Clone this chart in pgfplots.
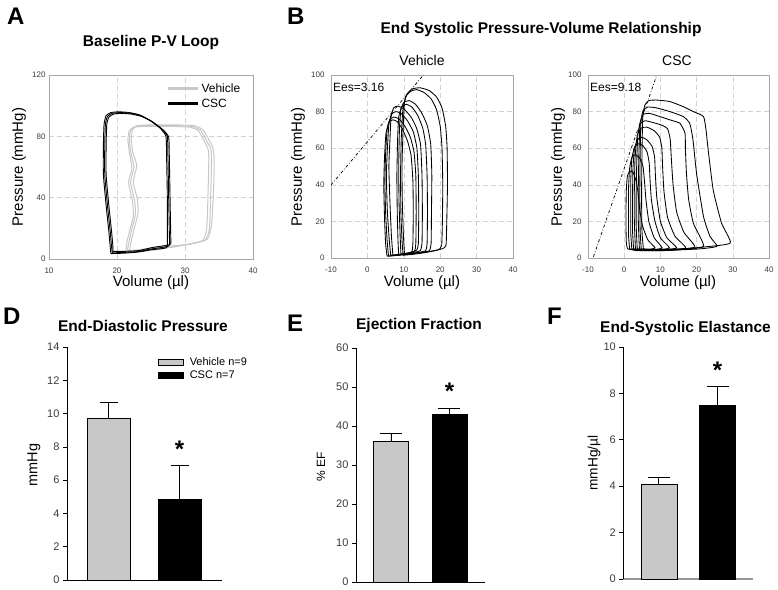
\documentclass[border=0pt]{standalone}
\usepackage{fontspec}
\setmainfont{Liberation Sans}
\usepackage{pgfplots}
\pgfplotsset{compat=1.18}
\definecolor{lgray}{RGB}{200,200,200}
\definecolor{tickgray}{RGB}{60,60,60}
\definecolor{fline}{RGB}{150,150,150}
\newcommand\ttl{\fontsize{15.5}{18}\selectfont\bfseries}
\newcommand\lett{\fontsize{24}{26}\selectfont\bfseries}
\newcommand\lab{\fontsize{15}{17}\selectfont}
\pgfplotsset{
  pvstyle/.style={
    scale only axis, anchor=south west,
    xmin=-10, xmax=40, ymin=0, ymax=100,
    xtick={-10,0,...,40}, ytick={0,20,...,100},
    grid=major, major grid style={gray!35, dash pattern=on 5pt off 3pt, line width=0.5pt},
    axis line style={gray!70}, major tick length=0pt,
    tick label style={font=\fontsize{8}{9}\selectfont, text=tickgray},
    xticklabel style={yshift=-5pt},
    /pgf/number format/assume math mode=true,
  },
  barstyle/.style={
    scale only axis, anchor=south west,
    axis lines=left, axis line style={-, black, line width=0.8pt},
    xtick=\empty, tick align=outside, major tick length=4pt,
    ytick style={black, line width=0.6pt},
    tick label style={font=\fontsize{11}{13}\selectfont, text=tickgray},
    /pgf/number format/assume math mode=true,
    ymin=0, clip=false,
  },
  loop/.style={black, line width=0.85pt, smooth, tension=0.3},
  ebar/.style={error bars/.cd, y dir=plus, y explicit,
    error bar style={line width=0.8pt, black},
    error mark options={rotate=90, black, line width=0.8pt, mark size=#1}},
}
\begin{document}
\begin{tikzpicture}[x=1pt,y=1pt]
\path[use as bounding box, fill=white] (0,0) rectangle (778,589);

% ---------- A: baseline loops
\begin{axis}[pvstyle, at={(49pt,330pt)}, width=204pt, height=184pt,
  xmin=10, xmax=40, ymin=0, ymax=120, xtick={10,20,30,40}, ytick={0,40,80,120},
  legend style={at={(0.575,0.965)}, anchor=north west, draw=none, fill=none,
    inner sep=0pt, font=\fontsize{12}{14}\selectfont, row sep=1pt},
  legend cell align=left,
  legend image code/.code={\draw[#1] (0pt,0pt) -- (30pt,0pt);}]
\addlegendimage{lgray, line width=3pt}\addlegendentry{Vehicle}
\addlegendimage{black, line width=3pt}\addlegendentry{CSC}
% vehicle
\addplot[lgray, line width=1pt, smooth, tension=0.3, forget plot] coordinates {
(21.5,5) (23.5,5.5) (26,7) (28.5,8) (31,10) (33,12.5) (33.6,20) (33.8,45) (33.9,65) (33.8,72) (33.2,77) (32.3,84) (31,86.5) (28,87) (25,87) (22.7,86.5) (22,84) (21.8,78) (22,70) (22.5,60) (22,50) (22.6,38) (22.7,29) (22.2,20) (21.8,12) (21.5,5)};
\addplot[lgray, line width=1pt, smooth, tension=0.3, forget plot] coordinates {
(21.8,4.5) (24,5) (26.5,6.5) (29,8.5) (31.5,10.5) (33.3,13) (33.9,22) (34.2,45) (34.3,65) (34.1,72.5) (33.5,78) (32.6,84.5) (31.3,87) (28.2,87.5) (25.2,87.5) (23,87) (22.3,84.5) (22.1,78) (22.3,70) (22.9,61) (22.4,50) (23,39) (23.1,30) (22.6,21) (22.1,12) (21.8,4.5)};
\addplot[lgray, line width=1pt, smooth, tension=0.3, forget plot] coordinates {
(21.3,5.5) (23.2,6) (25.6,7.5) (28,8.5) (30.5,9.5) (32.6,12) (33.2,20) (33.4,45) (33.5,65) (33.4,71.5) (32.9,76.5) (32,83.5) (30.7,86) (27.8,86.5) (24.8,86.5) (22.5,86) (21.8,83.5) (21.6,78) (21.8,70) (22.2,59) (21.7,50) (22.3,37) (22.4,28) (21.9,19) (21.5,12) (21.3,5.5)};
% CSC
\addplot[black, line width=0.9pt, smooth, tension=0.3, forget plot] coordinates {
(19.3,4) (21,4.3) (23,4.8) (25,6.5) (27.6,8.5) (27.7,15) (27.6,40) (27.5,65) (27.4,80) (26.5,85) (25,90) (23.5,93.5) (22,95) (20.5,95.5) (19.3,95) (18.6,93) (18.3,88) (18.2,75) (18.2,55) (18.6,35) (19,18) (19.2,8) (19.3,4)};
\addplot[black, line width=0.9pt, smooth, tension=0.3, forget plot] coordinates {
(19.1,3.5) (21,3.8) (23,4.5) (25,6) (27.3,7.5) (27.4,15) (27.4,40) (27.3,65) (27.2,80) (26.3,85.5) (24.8,90.5) (23.3,94) (21.8,95.5) (20.3,96) (19.1,95.5) (18.4,93.5) (18.1,88) (18,75) (18,55) (18.4,35) (18.8,18) (19,8) (19.1,3.5)};
\addplot[black, line width=0.9pt, smooth, tension=0.3, forget plot] coordinates {
(19.4,5) (21.2,5) (23.2,5.5) (25.2,7.5) (27.8,9.5) (27.9,15) (27.8,40) (27.7,65) (27.6,79.5) (26.7,84.5) (25.2,89.5) (23.6,93) (22.1,94.5) (20.6,95) (19.5,94.5) (18.8,92.5) (18.5,88) (18.4,75) (18.4,55) (18.8,35) (19.2,18) (19.4,8) (19.4,5)};
\end{axis}

% ---------- B: vehicle ESPVR
\begin{axis}[pvstyle, at={(331pt,331pt)}, width=182pt, height=183pt,
  yticklabel style={xshift=-3pt}]
\addplot[black, line width=0.7pt, dash dot] coordinates {(-10,39.9) (15.4,100)};
\addplot[loop] coordinates {(10.2,2) (13,2.5) (17,3.5) (20.5,5) (21.6,7) (21.8,20) (22,40) (21.9,60) (21.5,72) (20.5,82) (19,88) (17,91.5) (14.5,93) (12.5,92.5) (11,90) (10.2,85) (9.8,70) (9.5,50) (9.6,30) (9.9,12) (10.2,2)};
\addplot[loop] coordinates {(9.8,1.5) (12.5,2) (16,3) (19.5,4.5) (20.4,7) (20.6,20) (20.7,40) (20.5,60) (20,72) (19,81) (17.5,87) (15.5,90.5) (13.5,92) (11.8,91) (10.5,88) (9.7,80) (9.3,65) (9.1,45) (9.2,25) (9.5,10) (9.8,1.5)};
\addplot[loop] coordinates {(9.2,2) (11.5,2.5) (14.5,3) (17,4) (17.5,8) (17.6,25) (17.7,45) (17.4,62) (16.5,72) (15,79) (13.2,84) (11.5,86) (10,85) (9.2,81) (8.8,70) (8.6,50) (8.7,30) (9,12) (9.2,2)};
\addplot[loop] coordinates {(8.6,1.5) (11,2) (14,3) (16,4) (16.4,8) (16.5,25) (16.4,45) (16,62) (15.2,71) (13.8,78) (12.2,82.5) (10.6,84) (9.4,82.5) (8.6,77) (8.3,65) (8.1,45) (8.2,25) (8.4,10) (8.6,1.5)};
\addplot[loop] coordinates {(7,1.5) (9.5,2) (12.5,3) (14.5,4) (15,8) (15.1,25) (15,45) (14.6,62) (13.5,71) (12,77) (10,81.5) (8.3,83) (7.2,82) (6.5,77) (6.2,65) (5.9,50) (6.2,30) (6.6,12) (7,1.5)};
\addplot[loop] coordinates {(6.4,1.5) (9,2) (12,3) (13.6,4.5) (14,8) (14.1,25) (14,45) (13.6,60) (12.6,69) (11,75) (9.3,79) (7.8,80) (6.6,78.5) (5.9,73) (5.5,60) (5.2,45) (5.5,25) (6,10) (6.4,1.5)};
\addplot[loop] coordinates {(5.8,1) (8.5,1.5) (11.5,2.5) (13,4) (13.3,8) (13.4,25) (13.3,45) (12.8,58) (11.8,66) (10.3,72) (8.7,76) (7.2,77) (6.1,75.5) (5.4,70) (5,57) (4.8,42) (5,25) (5.4,10) (5.8,1)};
\addplot[loop] coordinates {(5.4,1) (8,1.5) (10.5,2.5) (12.2,3.5) (12.5,8) (12.6,25) (12.5,42) (12,56) (11,64) (9.6,70.5) (8.2,74.5) (7,75.5) (5.9,74) (5.1,68) (4.7,55) (4.5,40) (4.7,22) (5,8) (5.4,1)};
\node[anchor=west, inner sep=0pt, font=\fontsize{12}{14}\selectfont] at (rel axis cs:0.011,0.932) {Ees=3.16};
\end{axis}

% ---------- C: CSC ESPVR
\begin{axis}[pvstyle, at={(588pt,331pt)}, width=181pt, height=183pt,
  yticklabel style={xshift=-3pt}]
\addplot[black, line width=0.7pt, dash dot] coordinates {(-8.5,0.7) (9.0,100)};
\addplot[loop] coordinates {(5.3,5) (10,4.5) (16,5) (22,6) (29.3,8.2) (26.9,19) (24.6,37) (23.2,59) (22.6,70) (21.9,77.3) (19.1,80) (16.3,82.7) (12.6,85.5) (9,86.3) (6.8,86) (5.7,83.5) (5.1,76) (4.9,55) (4.8,35) (4.9,15) (5.3,5)};
\addplot[loop] coordinates {(4.7,5) (10,4) (16,4.5) (21,5) (25.6,6.4) (23.7,11.8) (21.9,22.7) (20,46) (19,64.5) (18.1,73.6) (16.3,77.3) (12.6,80) (9,82) (6.5,82.5) (5.2,80.5) (4.6,74) (4.4,55) (4.3,35) (4.4,15) (4.7,5)};
\addplot[loop] coordinates {(4.2,5) (9,4) (15,4.5) (21.9,6.4) (19.1,19) (17.8,32) (17.2,46) (16.9,60) (16.8,68.2) (15.4,73.6) (12.6,75.5) (9.5,77.5) (7,79) (5.3,78.5) (4.4,74) (4.1,60) (3.9,40) (3.9,20) (4.2,5)};
\addplot[loop] coordinates {(3.6,5) (8,4) (13,4.5) (19.5,6) (16.5,14) (14.5,25) (13.5,40) (13,55) (12.7,65) (12,70.5) (10.5,72.5) (8,74) (5.8,75) (4.5,73.5) (3.8,68) (3.5,55) (3.3,35) (3.3,18) (3.6,5)};
\addplot[loop] coordinates {(3.1,5) (7,4) (12,4.5) (17,5.5) (14,12) (12,22) (11,36) (10.6,50) (10.4,60) (9.8,66) (8.3,69.5) (6.3,71.5) (4.7,71) (3.6,67) (3,55) (2.8,38) (2.8,20) (3.1,5)};
\addplot[loop] coordinates {(2.6,5) (6,4) (10,4.5) (14.5,5.5) (11.8,11) (10,20) (9,33) (8.6,46) (8.4,55) (7.7,61) (6.3,64.5) (4.8,66) (3.6,64.5) (2.8,59) (2.4,48) (2.3,32) (2.3,15) (2.6,5)};
\addplot[loop] coordinates {(2.1,5) (5.5,4) (9,4.5) (12.5,5.5) (10,11) (8.5,20) (7.5,32) (7.1,44) (6.9,52) (6.3,58) (5.1,61.5) (3.8,62.5) (2.8,60.5) (2.1,54) (1.8,42) (1.8,28) (1.8,14) (2.1,5)};
\addplot[loop] coordinates {(1.5,5) (4.5,4) (7.5,4.5) (10.5,5.5) (8.3,11) (6.8,20) (6,32) (5.6,42) (5.2,50) (4.3,54.5) (3.1,56.5) (2.1,55) (1.5,49) (1.2,38) (1.2,24) (1.2,12) (1.5,5)};
\addplot[loop] coordinates {(0.9,5) (3.5,4) (6,4.5) (8.5,5.5) (6.5,10) (5,18) (4.2,28) (3.8,36) (3.3,42) (2.5,46.5) (1.6,47.5) (0.9,45) (0.6,38) (0.5,28) (0.5,16) (0.6,8) (0.9,5)};
\node[anchor=west, inner sep=0pt, font=\fontsize{12}{14}\selectfont] at (rel axis cs:0.011,0.932) {Ees=9.18};
\end{axis}

% ---------- D: end-diastolic pressure
\begin{axis}[barstyle, at={(67pt,9pt)}, width=154.7pt, height=233pt,
  xmin=-0.585, xmax=1.594, ymax=14, ytick={0,2,...,14},
  legend style={at={(0.588,0.966)}, anchor=north west, draw=none, fill=none,
    inner sep=0pt, font=\fontsize{11}{13}\selectfont, row sep=0pt,
    /tikz/every odd column/.append style={column sep=4pt}},
  legend cell align=left,
  legend image code/.code={\draw[#1] (0pt,-3pt) rectangle (25pt,3pt);}]
\addlegendimage{fill=lgray, draw=black, line width=0.6pt}\addlegendentry{Vehicle n=9}
\addlegendimage{fill=black, draw=black}\addlegendentry{CSC n=7}
\addplot[ybar, bar width=43pt, bar shift=0pt, fill=lgray, draw=black, line width=0.6pt, forget plot,
  ebar=9pt] coordinates {(0,9.7) +- (0,1.0)};
\addplot[ybar, bar width=43pt, bar shift=0pt, fill=black, draw=black, forget plot,
  ebar=9pt] coordinates {(1,4.85) +- (0,2.05)};
\node[anchor=base, font=\fontsize{24}{26}\selectfont\bfseries] at (axis cs:1,7.35) {*};
\end{axis}

% ---------- E: ejection fraction
\begin{axis}[barstyle, at={(356pt,7pt)}, width=129pt, height=234pt,
  xmin=-0.598, xmax=1.607, ymax=60, ytick={0,10,...,60}]
\addplot[ybar, bar width=34.5pt, bar shift=0pt, fill=lgray, draw=black, line width=0.6pt,
  ebar=11pt] coordinates {(0,36) +- (0,2.2)};
\addplot[ybar, bar width=34.5pt, bar shift=0pt, fill=black, draw=black,
  ebar=11pt] coordinates {(1,43) +- (0,1.5)};
\node[anchor=base, font=\fontsize{24}{26}\selectfont\bfseries] at (axis cs:1,46.9) {*};
\end{axis}

% ---------- F: end-systolic elastance
\begin{axis}[barstyle, at={(623.3pt,10pt)}, width=129.7pt, height=232pt,
  xmin=-0.605, xmax=1.605, ymax=10, ytick={0,2,...,10},
  x axis line style={fline, line width=1.3pt}]
\addplot[ybar, bar width=36pt, bar shift=0pt, fill=lgray, draw=black, line width=0.6pt,
  ebar=11pt] coordinates {(0,4.1) +- (0,0.3)};
\addplot[ybar, bar width=36pt, bar shift=0pt, fill=black, draw=black,
  ebar=11pt] coordinates {(1,7.5) +- (0,0.8)};
\node[anchor=base, font=\fontsize{24}{26}\selectfont\bfseries] at (axis cs:1,8.65) {*};
\end{axis}

% ---------- letters, titles, axis labels
\node[anchor=north west, inner sep=0pt, font=\lett] at (7,581) {A};
\node[anchor=north west, inner sep=0pt, font=\lett] at (287,581) {B};
\node[anchor=north west, inner sep=0pt, font=\lett] at (3,281) {D};
\node[anchor=north west, inner sep=0pt, font=\lett] at (287,274) {E};
\node[anchor=north west, inner sep=0pt, font=\lett] at (547,281) {F};

\node[anchor=base, inner sep=0pt, font=\ttl] at (151,542.3) {Baseline P-V Loop};
\node[anchor=base, inner sep=0pt, font=\ttl] at (541,555.7) {End Systolic Pressure-Volume Relationship};
\node[anchor=base, inner sep=0pt, font=\fontsize{14}{16}\selectfont] at (422,523.3) {Vehicle};
\node[anchor=base, inner sep=0pt, font=\fontsize{14}{16}\selectfont] at (677,523.3) {CSC};
\node[anchor=base, inner sep=0pt, font=\ttl] at (143,257.3) {End-Diastolic Pressure};
\node[anchor=base, inner sep=0pt, font=\ttl] at (419,259.7) {Ejection Fraction};
\node[anchor=base, inner sep=0pt, font=\ttl] at (685.5,256.3) {End-Systolic Elastance};

\node[rotate=90, inner sep=0pt, font=\lab] at (19,422) {Pressure (mmHg)};
\node[rotate=90, inner sep=0pt, font=\lab] at (298,422) {Pressure (mmHg)};
\node[rotate=90, inner sep=0pt, font=\lab] at (558,422) {Pressure (mmHg)};
\node[inner sep=0pt, font=\lab] at (151,306) {Volume (µl)};
\node[inner sep=0pt, font=\lab] at (422,306) {Volume (µl)};
\node[inner sep=0pt, font=\lab] at (678,306) {Volume (µl)};
\node[rotate=90, inner sep=0pt, font=\fontsize{14.5}{16}\selectfont] at (34,124) {mmHg};
\node[rotate=90, inner sep=0pt, font=\fontsize{12}{14}\selectfont] at (321,122) {\% EF};
\node[rotate=90, inner sep=0pt, font=\fontsize{13.7}{16}\selectfont] at (594,126) {mmHg/µl};
\end{tikzpicture}
\end{document}
